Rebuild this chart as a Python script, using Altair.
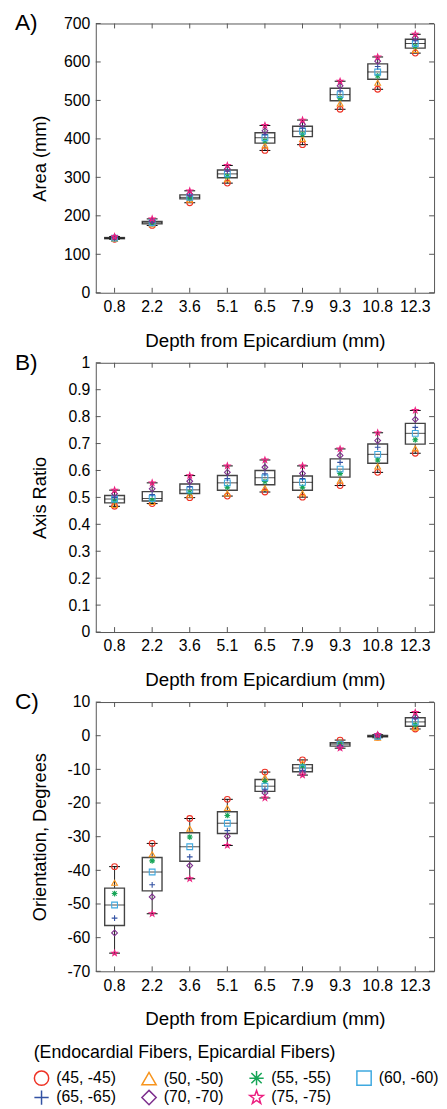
import altair as alt
import pandas as pd

depths = ["0.8", "2.2", "3.6", "5.1", "6.5", "7.9", "9.3", "10.8", "12.3"]
series = ["(45, -45)", "(50, -50)", "(55, -55)", "(60, -60)", "(65, -65)", "(70, -70)", "(75, -75)"]

area_45 = [139, 175, 234, 285, 370, 385, 477, 529, 623]
area_50 = [140, 178, 242, 295, 383, 400, 492, 546, 631]
area_55 = [141, 180, 246, 303, 395, 412, 506, 564, 641]
area_60 = [142, 182, 248, 309, 403, 420, 515, 574, 648]
area_65 = [143, 184, 252, 316, 411, 428, 525, 588, 655]
area_70 = [144, 187, 257, 322, 421, 438, 538, 602, 663]
area_75 = [146, 192, 265, 331, 435, 449, 550, 613, 672]

ratio_45 = [0.467, 0.477, 0.499, 0.505, 0.520, 0.501, 0.544, 0.593, 0.664]
ratio_50 = [0.472, 0.483, 0.510, 0.515, 0.535, 0.515, 0.562, 0.615, 0.682]
ratio_55 = [0.487, 0.490, 0.519, 0.538, 0.559, 0.538, 0.589, 0.639, 0.714]
ratio_60 = [0.494, 0.496, 0.528, 0.554, 0.573, 0.556, 0.605, 0.660, 0.738]
ratio_65 = [0.500, 0.511, 0.540, 0.570, 0.588, 0.570, 0.630, 0.686, 0.760]
ratio_70 = [0.514, 0.532, 0.560, 0.593, 0.612, 0.589, 0.656, 0.711, 0.790]
ratio_75 = [0.527, 0.554, 0.581, 0.617, 0.639, 0.617, 0.680, 0.740, 0.823]

orient_45 = [-38.9, -32.0, -24.6, -18.9, -10.8, -7.2, -1.3, -0.4, 2.0]
orient_50 = [-43.7, -35.2, -27.6, -21.5, -12.4, -8.2, -1.9, -0.6, 2.4]
orient_55 = [-46.9, -37.2, -30.1, -23.7, -13.6, -9.0, -2.3, -0.3, 3.2]
orient_60 = [-50.3, -40.5, -33.0, -26.0, -15.0, -9.6, -2.5, -0.2, 4.1]
orient_65 = [-54.2, -44.3, -36.0, -28.2, -16.1, -10.3, -2.9, 0.0, 5.1]
orient_70 = [-58.6, -47.9, -38.6, -29.9, -17.0, -11.1, -3.3, 0.2, 5.6]
orient_75 = [-64.6, -52.9, -42.5, -32.6, -18.5, -11.7, -3.7, 0.3, 6.9]

area_ticks = [0, 100, 200, 300, 400, 500, 600, 700]
ratio_ticks = [0, 0.1, 0.2, 0.3, 0.4, 0.5, 0.6, 0.7, 0.8, 0.9, 1]
orient_ticks = [-70, -60, -50, -40, -30, -20, -10, 0, 10]

colors = ["#EE3124", "#F7941D", "#17A557", "#3FA9E0", "#3352A3", "#7D2E8D", "#EC1F80"]
STAR = ("M0,-1L0.235,-0.324L0.951,-0.309L0.380,0.124L0.588,0.809L0,0.4"
        "L-0.588,0.809L-0.380,0.124L-0.951,-0.309L-0.235,-0.324Z")
PLUS = "M-1,0L1,0M0,-1L0,1"
ASTER = "M-1,0L1,0M0,-1L0,1M-0.72,-0.72L0.72,0.72M-0.72,0.72L0.72,-0.72"
shapes = ["circle", "triangle-up", ASTER, "square", PLUS, "diamond", STAR]

areas = [area_45, area_50, area_55, area_60, area_65, area_70, area_75]
ratios = [ratio_45, ratio_50, ratio_55, ratio_60, ratio_65, ratio_70, ratio_75]
orients = [orient_45, orient_50, orient_55, orient_60, orient_65, orient_70, orient_75]

rows = []
for si, s in enumerate(series):
    for di, d in enumerate(depths):
        rows.append({"depth": d, "series": s, "area": areas[si][di],
                     "ratio": ratios[si][di], "orient": orients[si][di]})
df = pd.DataFrame(rows)

W, H = 343, 273
LEG_TITLE = "(Endocardial Fibers, Epicardial Fibers)"
FONT = "Liberation Sans"

legend = alt.Legend(orient="none", legendX=-63, legendY=1035, columns=4,
                    direction="horizontal")


def panel(field, ytitle, domain, ticks, label):
    xaxis = alt.Axis(labelAngle=0, ticks=False, domain=False, titleFontSize=19,
                     labelPadding=6, titlePadding=17, labelOverlap=False)
    yaxis = alt.Axis(values=ticks, ticks=False, domain=False, grid=False,
                     labelExpr="datum.value + ''", labelOverlap=False,
                     titleFontSize=18.5, labelPadding=6, titleX=-47)
    xscale = alt.Scale(paddingInner=0.1, paddingOuter=0.05)
    yscale = alt.Scale(domain=domain, nice=False, zero=False)
    xtitle = "Depth from Epicardium (mm)"

    def X():
        return alt.X("depth:N", sort=depths, title=xtitle, scale=xscale, axis=xaxis)

    def Y():
        return alt.Y(f"{field}:Q", title=ytitle, scale=yscale, axis=yaxis)

    base = alt.Chart(df)
    box = base.mark_boxplot(
        extent="min-max", size=20,
        box={"fill": "white", "stroke": "#444444", "strokeWidth": 1.4},
        median={"color": "black", "strokeWidth": 1.2},
        rule={"color": "#222222", "strokeWidth": 1},
        ticks={"color": "black", "size": 11, "strokeWidth": 1.2},
    ).encode(x=X(), y=Y())
    pts = base.mark_point(filled=False, size=34, strokeWidth=1.1, opacity=1).encode(
        x=X(), y=Y(),
        color=alt.Color("series:N", sort=series, title=LEG_TITLE, legend=legend,
                        scale=alt.Scale(domain=series, range=colors)),
        shape=alt.Shape("series:N", sort=series, title=LEG_TITLE, legend=legend,
                        scale=alt.Scale(domain=series, range=shapes)),
    )
    xt = pd.DataFrame({"depth": depths})
    yt = pd.DataFrame({field: ticks})
    xt_bot = alt.Chart(xt).mark_rule(color="#555555").encode(
        x=X(), y=alt.value(H), y2=alt.value(H - 5))
    xt_top = alt.Chart(xt).mark_rule(color="#555555").encode(
        x=X(), y=alt.value(0), y2=alt.value(5))
    yt_l = alt.Chart(yt).mark_rule(color="#555555").encode(
        y=Y(), x=alt.value(0), x2=alt.value(5))
    yt_r = alt.Chart(yt).mark_rule(color="#555555").encode(
        y=Y(), x=alt.value(W - 5), x2=alt.value(W))
    return alt.layer(box, xt_bot, xt_top, yt_l, yt_r, pts).properties(
        width=W, height=H,
        title=alt.TitleParams(label, anchor="start", frame="group", fontSize=23,
                              font=FONT, fontWeight="normal", color="black",
                              baseline="alphabetic", offset=0, dx=-82, dy=38),
    )


pA = panel("area", "Area (mm)", [0, 700], area_ticks, "A)")
pB = panel("ratio", "Axis Ratio", [0, 1], ratio_ticks, "B)")
pC = panel("orient", "Orientation, Degrees", [-70, 10], orient_ticks, "C)")

chart = alt.vconcat(pA, pB, pC, spacing=0).resolve_scale(
    color="shared", shape="shared"
).properties(
    padding={"left": 6, "top": -4, "right": 0, "bottom": 0}
).configure_view(
    stroke="#555555", strokeWidth=1
).configure_axis(
    labelFont=FONT, titleFont=FONT, labelFontSize=16, titleFontSize=18.5,
    labelColor="black", titleColor="black", titleFontWeight="normal",
    labelOverlap=False
).configure_legend(
    symbolSize=210, symbolStrokeWidth=1.5,
    labelFont=FONT, titleFont=FONT, labelFontSize=16, titleFontSize=18,
    titleFontWeight="normal", labelColor="black", titleColor="black",
    columnPadding=22, rowPadding=-2, labelOffset=7, titlePadding=8,
    titleLimit=500, labelLimit=200
)

chart.save("out.html", embed_options={"renderer": "svg", "actions": False})
